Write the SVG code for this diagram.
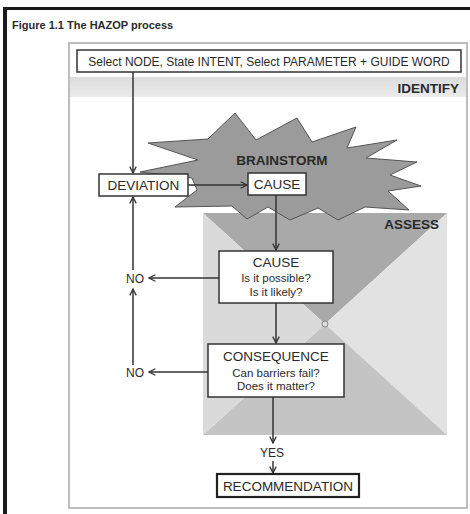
<svg xmlns="http://www.w3.org/2000/svg" width="470" height="514" viewBox="0 0 470 514">
  <style>
    .t{font-family:"Liberation Sans",Arial,sans-serif;fill:#2a2a2a}
    .b{font-weight:bold}
    .box{fill:#fff;stroke:#333;stroke-width:1.5}
    .c{fill:none;stroke:#333;stroke-width:1.5;marker-end:url(#arr)}
  </style>
  <defs>
    <marker id="arr" viewBox="0 0 10 10" refX="9" refY="5" markerWidth="8" markerHeight="8" orient="auto" markerUnits="userSpaceOnUse">
      <path d="M1,1 L9,5 L1,9" fill="none" stroke="#333" stroke-width="1.6"/>
    </marker>
    <linearGradient id="band" x1="0" y1="0" x2="0" y2="1">
      <stop offset="0" stop-color="#dcdcdc"/>
      <stop offset="1" stop-color="#ebebeb"/>
    </linearGradient>
  </defs>

  <!-- page frame -->
  <rect x="3" y="7" width="467" height="3" fill="#1a1a1a"/>
  <rect x="3" y="7" width="4" height="507" fill="#1a1a1a"/>
  <text class="t b" x="12" y="29" font-size="11">Figure 1.1 The HAZOP process</text>

  <!-- outer panel -->
  <rect x="69" y="43" width="398" height="465" fill="#fff" stroke="#a8a8a8" stroke-width="1.5"/>
  <rect x="70" y="77" width="396" height="20" fill="url(#band)"/>
  <text class="t b" x="459" y="93" font-size="13.5" text-anchor="end" fill="#222">IDENTIFY</text>

  <!-- assess area -->
  <g id="assess">
    <polygon points="203,213 447,213 325,324" fill="#a9a9a9"/>
    <polygon points="447,213 447,435 325,324" fill="#e2e2e2"/>
    <polygon points="447,435 203,435 325,324" fill="#c4c4c4"/>
    <polygon points="203,435 203,213 325,324" fill="#dadada"/>
    <circle cx="325" cy="324" r="3" fill="#ddd" stroke="#888" stroke-width="1"/>
    <text class="t b" x="439" y="229" font-size="13.5" text-anchor="end" fill="#222">ASSESS</text>
  </g>

  <!-- brainstorm burst -->
  <g id="brainstorm">
    <polygon points="235,113 256,140 297,118 312,142 356,127 347,148 397,140 366,158 417,162 390,175 421,186 388,191 409,210 365,207 338,220 318,208 290,220 268,207 247,219 232,206 175,207 197,190 192,178 140,172 198,160 148,143 208,139" fill="#9b9b9b" stroke="#555" stroke-width="1"/>
    <text class="t b" x="282" y="165" font-size="13.5" text-anchor="middle" fill="#f2f2f2">BRAINSTORM</text>
  </g>

  <!-- connectors -->
  <g id="connectors">
    <path class="c" d="M133,72 V173"/>
    <path class="c" d="M188,185 H247"/>
    <path class="c" d="M276,195 V250"/>
    <path class="c" d="M219,278 H149"/>
    <path class="c" d="M133,270 V197"/>
    <path class="c" d="M133,365 V289"/>
    <path class="c" d="M208,372 H149"/>
    <path class="c" d="M276,303 V343"/>
    <path class="c" d="M273,397 V443"/>
    <path class="c" d="M273,461 V473"/>
  </g>

  <!-- nodes -->
  <g id="select">
    <rect class="box" x="77" y="50" width="384" height="22"/>
    <text class="t" x="269" y="65.5" font-size="12" text-anchor="middle">Select NODE, State INTENT, Select PARAMETER + GUIDE WORD</text>
  </g>
  <g id="deviation">
    <rect class="box" x="99" y="174" width="89" height="22"/>
    <text class="t" x="143.5" y="190" font-size="13.5" text-anchor="middle">DEVIATION</text>
  </g>
  <g id="cause-brainstorm">
    <rect class="box" x="248" y="173" width="58" height="22"/>
    <text class="t" x="277" y="189" font-size="13.5" text-anchor="middle">CAUSE</text>
  </g>
  <g id="cause-check">
    <rect class="box" x="219" y="251" width="114" height="52"/>
    <text class="t" x="276" y="267" font-size="13.5" text-anchor="middle">CAUSE</text>
    <text class="t" x="276" y="282" font-size="11.5" text-anchor="middle">Is it possible?</text>
    <text class="t" x="276" y="295.5" font-size="11.5" text-anchor="middle">Is it likely?</text>
  </g>
  <g id="consequence">
    <rect class="box" x="208" y="344" width="136" height="53"/>
    <text class="t" x="276" y="361" font-size="13.5" text-anchor="middle">CONSEQUENCE</text>
    <text class="t" x="276" y="376.5" font-size="11.5" text-anchor="middle">Can barriers fail?</text>
    <text class="t" x="276" y="390" font-size="11.5" text-anchor="middle">Does it matter?</text>
  </g>
  <g id="no-cause">
    <text class="t" x="135" y="282.5" font-size="12" text-anchor="middle">NO</text>
  </g>
  <g id="no-consequence">
    <text class="t" x="135" y="376.5" font-size="12" text-anchor="middle">NO</text>
  </g>
  <g id="yes">
    <text class="t" x="272" y="456.5" font-size="12" text-anchor="middle">YES</text>
  </g>
  <g id="recommendation">
    <rect x="217" y="474" width="142" height="23" fill="#fff" stroke="#222" stroke-width="2.2"/>
    <text class="t" x="288" y="491" font-size="13.5" text-anchor="middle">RECOMMENDATION</text>
  </g>
</svg>
